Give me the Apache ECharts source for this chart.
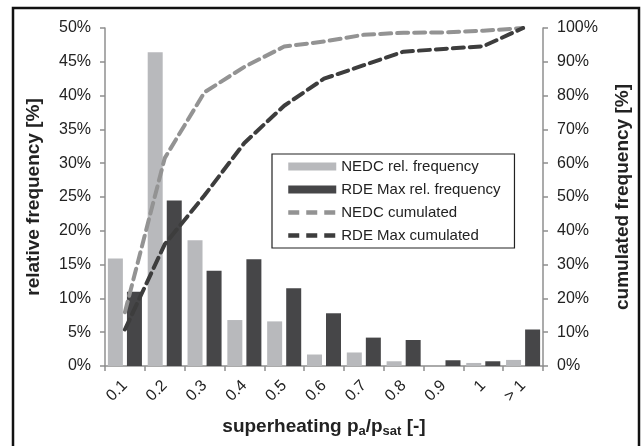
<!DOCTYPE html>
<html>
<head>
<meta charset="utf-8">
<script src="https://cdn.jsdelivr.net/npm/echarts@6/dist/echarts.min.js"></script>
<style>html,body{margin:0;padding:0;background:#fff;}#c{width:642px;height:446px;}</style>
</head>
<body>
<div id="c"></div>
<script>
var categories = ['0.1','0.2','0.3','0.4','0.5','0.6','0.7','0.8','0.9','1','> 1'];
var nedcRel = [15.9, 46.4, 18.6, 6.8, 6.6, 1.7, 2.0, 0.7, 0, 0.45, 0.9];
var rdeRel = [11.0, 24.5, 14.1, 15.8, 11.5, 7.8, 4.2, 3.85, 0.85, 0.7, 5.4];
var nedcCum = [15.9, 61.5, 81.0, 88.5, 94.5, 96.0, 98.0, 98.6, 98.7, 99.2, 100];
var rdeCum = [10.8, 36.0, 50.5, 66.0, 77.0, 85.0, 89.0, 93.0, 93.8, 94.6, 100];
var leftTicks = [0,5,10,15,20,25,30,35,40,45,50];
var rightTicks = [0,10,20,30,40,50,60,70,80,90,100];

var FONT = 'Liberation Sans';
var chart = echarts.init(document.getElementById('c'));
var axisGray = '#8f8f8f';
chart.setOption({
  backgroundColor: '#fff',
  animation: false,
  textStyle: {fontFamily: FONT},
  grid: {left: 105, right: 99, top: 28, bottom: 80},
  graphic: [{
    type: 'rect', shape: {x: 13, y: 8, width: 626, height: 460},
    style: {fill: 'none', stroke: '#111', lineWidth: 2.5}, silent: true
  }],
  legend: {
    orient: 'vertical', left: 272, top: 154, width: 240,
    padding: [5, 14, 5, 14], itemGap: 8,
    borderColor: '#222', borderWidth: 1.2,
    itemWidth: 48, itemHeight: 8,
    textStyle: {fontFamily: FONT, fontSize: 15, color: '#222'},
    data: [
      {name: 'NEDC rel. frequency', icon: 'rect'},
      {name: 'RDE Max rel. frequency', icon: 'rect'},
      {name: 'NEDC cumulated', itemStyle: {opacity: 0},
        lineStyle: {width: 4.5, type: [11, 7], cap: 'butt', color: '#939393'}},
      {name: 'RDE Max cumulated', itemStyle: {opacity: 0},
        lineStyle: {width: 4.5, type: [11, 7], cap: 'butt', color: '#3d3d3d'}}
    ]
  },
  xAxis: {
    type: 'category', data: categories,
    axisLine: {lineStyle: {color: axisGray, width: 1.5}},
    axisTick: {show: true, length: 5, lineStyle: {color: axisGray, width: 1.5}},
    axisLabel: {rotate: 45, fontSize: 16, color: '#222', fontFamily: FONT, margin: 17},
    name: '{b|superheating p}{s|a}{b|/p}{s|sat}{b| [-]}',
    nameLocation: 'middle', nameGap: 50,
    nameTextStyle: {
      rich: {
        b: {fontSize: 19, fontWeight: 'bold', color: '#222', fontFamily: FONT},
        s: {fontSize: 13, fontWeight: 'bold', color: '#222', fontFamily: FONT, padding: [9,0,0,0]}
      }
    }
  },
  yAxis: [{
    type: 'value', min: 0, max: 50, interval: 5, position: 'left',
    axisLine: {show: true, lineStyle: {color: axisGray, width: 1.5}},
    axisTick: {show: true, length: 5, lineStyle: {color: axisGray, width: 1.5}},
    splitLine: {show: false},
    axisLabel: {fontSize: 16, color: '#222', fontFamily: FONT, margin: 14,
      formatter: function (v) { return leftTicks.indexOf(v) >= 0 ? v + '%' : ''; }},
    name: 'relative frequency [%]', nameLocation: 'middle', nameGap: 62, nameRotate: 90,
    nameTextStyle: {fontSize: 19, fontWeight: 'bold', color: '#222', fontFamily: FONT}
  }, {
    type: 'value', min: 0, max: 100, interval: 10, position: 'right',
    axisLine: {show: true, lineStyle: {color: axisGray, width: 1.5}},
    axisTick: {show: true, length: 5, lineStyle: {color: axisGray, width: 1.5}},
    splitLine: {show: false},
    axisLabel: {fontSize: 16, color: '#222', fontFamily: FONT, margin: 14,
      formatter: function (v) { return rightTicks.indexOf(v) >= 0 ? v + '%' : ''; }},
    name: 'cumulated frequency [%]', nameLocation: 'middle', nameGap: 70, nameRotate: 90,
    nameTextStyle: {fontSize: 19, fontWeight: 'bold', color: '#222', fontFamily: FONT}
  }],
  series: [{
    name: 'NEDC rel. frequency', type: 'bar', data: nedcRel, barWidth: 15, barGap: '27%',
    itemStyle: {color: '#b8b9bc'}
  }, {
    name: 'RDE Max rel. frequency', type: 'bar', data: rdeRel, barWidth: 15,
    itemStyle: {color: '#464648'}
  }, {
    name: 'NEDC cumulated', type: 'line', yAxisIndex: 1, data: nedcCum,
    symbol: 'none', smooth: false,
    lineStyle: {color: '#939393', width: 4, type: [11, 6], cap: 'round'},
    itemStyle: {color: '#939393'}, z: 3
  }, {
    name: 'RDE Max cumulated', type: 'line', yAxisIndex: 1, data: rdeCum,
    symbol: 'none', smooth: false,
    lineStyle: {color: '#3d3d3d', width: 4, type: [11, 6], cap: 'round'},
    itemStyle: {color: '#3d3d3d'}, z: 4
  }]
});
</script>
</body>
</html>
